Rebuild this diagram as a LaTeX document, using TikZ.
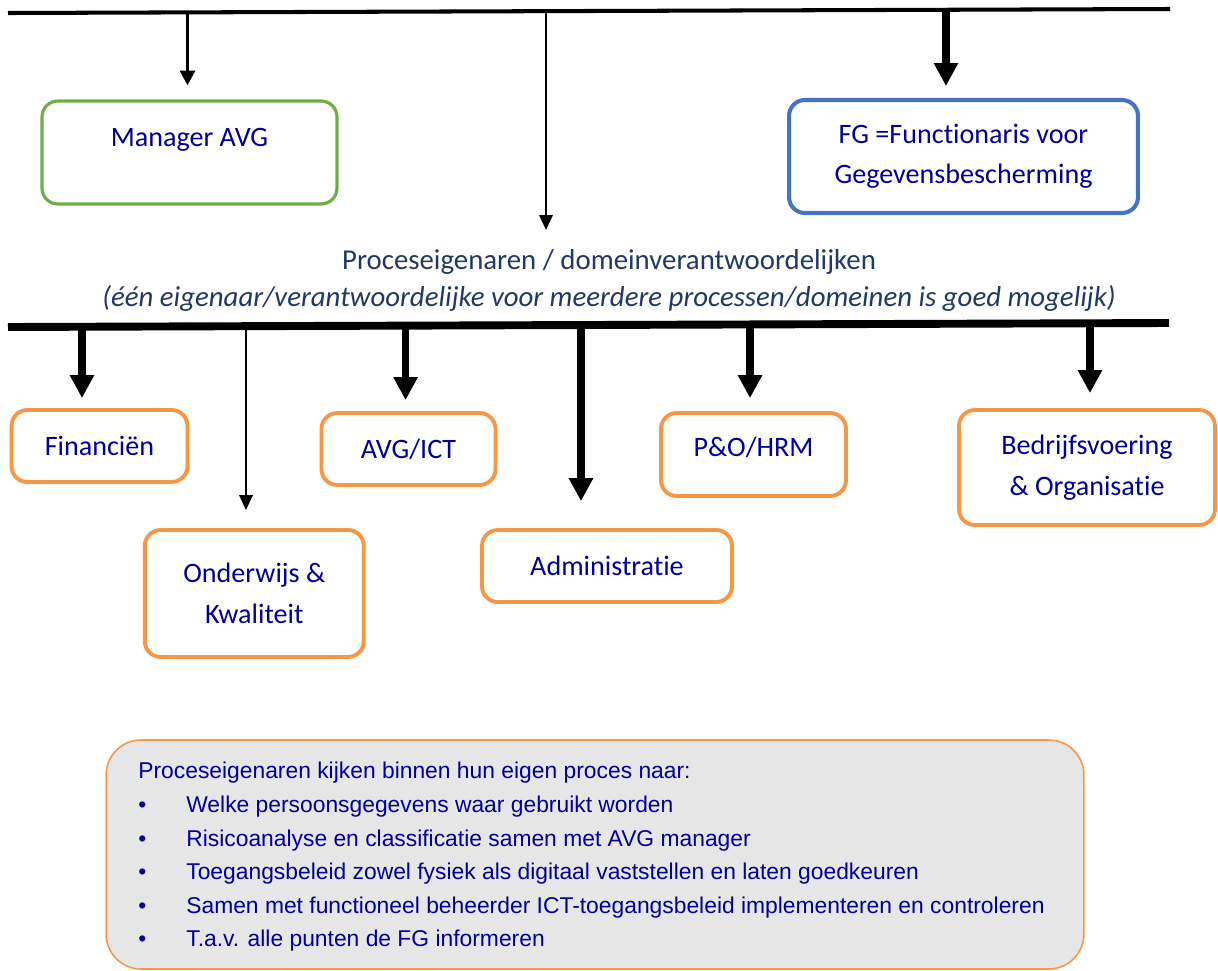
\documentclass[tikz,border=0pt]{standalone}
\usepackage{fontspec}
\setmainfont{Carlito}[Ligatures={NoCommon}]
\newfontfamily\notefont{Liberation Sans}
\usetikzlibrary{arrows.meta, positioning}
\definecolor{avggreen}{HTML}{70AD47}
\definecolor{fgblue}{HTML}{4472C4}
\definecolor{domorange}{HTML}{F79646}
\definecolor{boxblue}{HTML}{000099}
\definecolor{titleblue}{HTML}{203864}
\definecolor{notegray}{HTML}{E7E6E6}
\tikzset{
  rolebox/.style={draw, rounded corners=9pt, align=center, text=boxblue,
    font=\fontsize{16}{23}\selectfont, inner sep=0pt},
  dombox/.style={rolebox, draw=domorange, line width=2.2pt},
  smallarrow/.style={-{Triangle[length=8.5pt,width=7.5pt]}, line width=1.4pt},
  bigarrow/.style={-{Triangle[length=13pt,width=13pt]}, line width=4pt},
  barline/.style={line width=4.5pt}}

\begin{document}
\begin{tikzpicture}[x=0.02cm, y=-0.02cm]
	\useasboundingbox (0,0) rectangle (1218,971);
	% the two horizontal lines
	\coordinate (topL) at (8,13);
	\coordinate (topR) at (1170,9);
	\coordinate (barL) at (8,327);
	\coordinate (barR) at (1169,323);
	\draw [line width=2.3pt] (topL) -- (topR);
	\draw [barline] (barL) -- (barR);
	% top level
	\node [rolebox, draw=avggreen, line width=1.8pt, minimum width=5.9cm, minimum height=2.06cm, text height=12pt, text depth=18.8pt] (mgr) at (189.5,152.5) {Manager AVG};
	\node [rolebox, draw=fgblue, line width=2.3pt, minimum width=6.98cm, minimum height=2.26cm] (fg) at (963.5,156.5) {FG =Functionaris voor\\Gegevensbescherming};
	\node [text=titleblue, align=center, font=\fontsize{16.4}{21}\selectfont] (eig) at (609,280.5) {Proceseigenaren / domeinverantwoordelijken\\\textit{(één eigenaar/verantwoordelijke voor meerdere processen/domeinen is goed mogelijk)}};
	\coordinate (smgr) at (187.5,12);
	\coordinate (seig) at (546,11);
	\coordinate (eeig) at (546,230);
	\coordinate (sfg) at (946,10);
	\draw [-{Triangle[length=8.5pt,width=8.5pt]}, line width=2pt, shorten >=0.28cm] (smgr) -- (smgr |- mgr.north);
	\draw [smallarrow] (seig) -- (eeig);
	\draw [bigarrow, shorten >=0.24cm] (sfg) -- (sfg |- fg.north);
	% domains
	\node [dombox, minimum width=3.52cm, minimum height=1.44cm] (fin) at (99.5,446) {Financiën};
	\node [dombox, minimum width=3.48cm, minimum height=1.44cm] (avgict) at (408.5,449) {AVG/ICT};
	\node [dombox, minimum width=4.38cm, minimum height=2.54cm] (ond) at (254.3,593.5) {Onderwijs \&\\Kwaliteit};
	\node [dombox, minimum width=5cm, minimum height=1.44cm] (adm) at (607,566) {Administratie};
	\node [dombox, minimum width=3.7cm, minimum height=1.66cm, text height=12pt, text depth=9.5pt] (po) at (753.5,454.5) {P\&O/HRM};
	\node [dombox, minimum width=5.12cm, minimum height=2.3cm] (bed) at (1087,467.5) {Bedrijfsvoering\\\& Organisatie};
	\foreach \b/\x/\gap in {fin/82/0.2, avgict/405.6/0.22, adm/581/0.54, po/750/0.26, bed/1090/0.3} {
		\coordinate (s\b) at (\x,325);
		\draw [bigarrow, shorten >=\gap cm] (s\b) -- (s\b |- \b.north);
	}
	\coordinate (sond) at (246,325);
	\draw [smallarrow, shorten >=0.36cm] (sond) -- (sond |- ond.north);
	% note
	\node [draw=domorange, fill=notegray, line width=0.9pt, rounded corners=0.7cm, minimum width=19.56cm, minimum height=4.58cm, inner sep=0pt] (note) at (595,854.5) {};
	\node [anchor=north west, inner sep=0pt, align=left, text=boxblue, font=\notefont\fontsize{13}{19.1}\selectfont] (notetxt) at (138,762) {Proceseigenaren kijken binnen hun eigen proces naar:\\
		\makebox[0.96cm][l]{\textbullet}Welke persoonsgegevens waar gebruikt worden\\
		\makebox[0.96cm][l]{\textbullet}Risicoanalyse en classificatie samen met AVG manager\\
		\makebox[0.96cm][l]{\textbullet}Toegangsbeleid zowel fysiek als digitaal vaststellen en laten goedkeuren\\
		\makebox[0.96cm][l]{\textbullet}Samen met functioneel beheerder ICT-toegangsbeleid implementeren en controleren\\
		\makebox[0.96cm][l]{\textbullet}T.a.v. alle punten de FG informeren};
\end{tikzpicture}
\end{document}
